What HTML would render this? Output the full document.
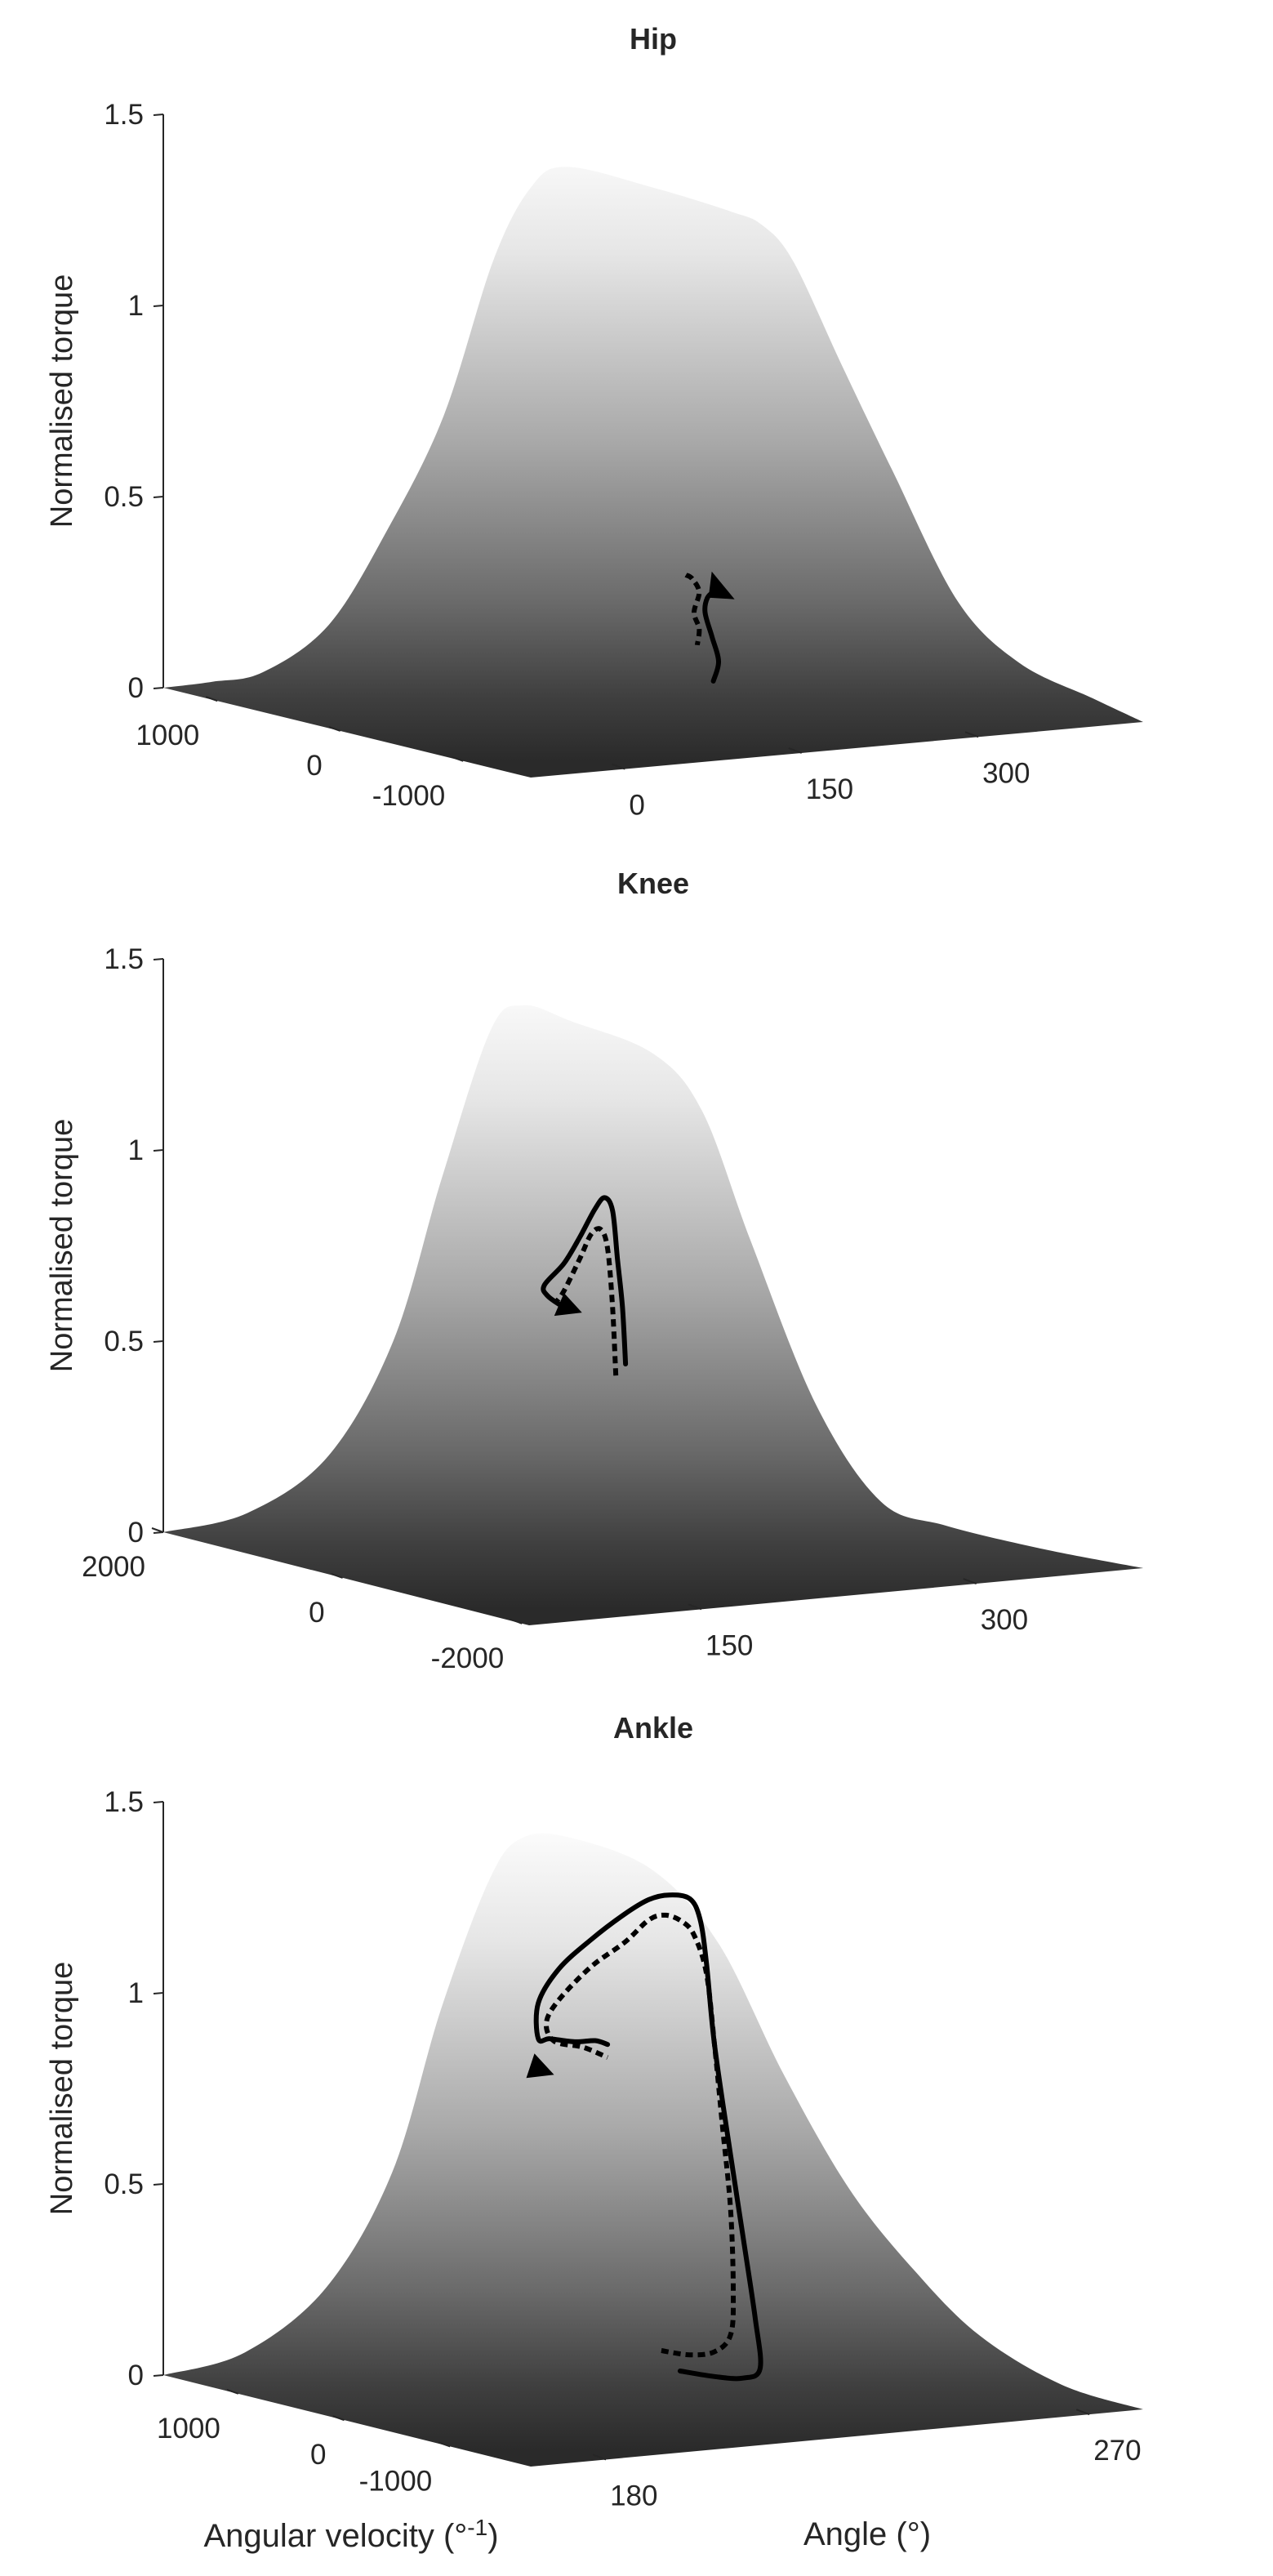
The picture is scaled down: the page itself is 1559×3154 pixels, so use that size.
<!DOCTYPE html>
<html><head><meta charset="utf-8"><style>
html,body{margin:0;padding:0;background:#fff}
svg{display:block}
text{font-family:"Liberation Sans",sans-serif;fill:#262626}
</style></head><body>
<svg id="fig" width="1559" height="3154" viewBox="0 0 1559 3154" xmlns="http://www.w3.org/2000/svg">
<defs id="defs"></defs>
</svg>
<script>
// ---- data (angle in deg, torque normalised) ----
const panelNames = ["Hip","Knee","Ankle"];
const zTicks = [0,0.5,1,1.5];
const zTickLabels = ["0","0.5","1","1.5"];
const hipVelTicks = [1000,0,-1000];
const hipVelLabels = ["1000","0","-1000"];
const hipAngTicks = [0,150,300];
const hipAngLabels = ["0","150","300"];
const kneeVelTicks = [2000,0,-2000];
const kneeVelLabels = ["2000","0","-2000"];
const kneeAngTicks = [150,300];
const kneeAngLabels = ["150","300"];
const ankleVelTicks = [1000,0,-1000];
const ankleVelLabels = ["1000","0","-1000"];
const ankleAngTicks = [180,270];
const ankleAngLabels = ["180","270"];

const hipSurfAngle = [-194.4,-151.4,-95.9,-46.7,1.8,44.1,76.0,106.5,180.0,245.3,272.2,298.9,340.5,382.8,438.3,490.8,553.0];
const hipSurfTorque = [0.165,0.178,0.285,0.516,0.804,1.200,1.382,1.428,1.353,1.273,1.230,1.127,0.841,0.558,0.200,0.023,-0.087];
const kneeSurfAngle = [2.0,46.3,81.7,108.3,134.9,152.6,179.2,223.5,250.1,276.7,312.1,347.6,383.0,436.2];
const kneeSurfTorque = [0.196,0.326,0.611,1.027,1.401,1.457,1.403,1.299,1.138,0.785,0.343,0.072,-0.007,-0.092];
const ankleSurfAngle = [147.0,162.2,174.4,183.5,192.6,198.7,207.8,223.0,235.2,247.3,259.5,271.6,283.8,299.0];
const ankleSurfTorque = [0.204,0.355,0.639,1.054,1.384,1.483,1.470,1.365,1.157,0.799,0.484,0.255,0.068,-0.080];

const hipSolidAngle = [231,235.5,230,224,226,233];
const hipSolidTorque = [0.048,0.098,0.163,0.229,0.267,0.286];
const hipDotAngle = [207.7,213,219,214.7,219,217.4];
const hipDotTorque = [0.332,0.321,0.284,0.232,0.188,0.146];
const hipArrow = [238,0.29];

const kneeSolidAngle = [208.4,206.7,204,201.3,196.9,191.6,183.6,174.8,164.1,165.9,174.8];
const kneeSolidTorque = [0.494,0.644,0.770,0.898,0.934,0.906,0.838,0.772,0.720,0.691,0.657];
const kneeDotAngle = [203.1,201.3,198.7,195.1,189.8,183.6,174.8,170.3];
const kneeDotTorque = [0.466,0.646,0.797,0.851,0.843,0.782,0.700,0.672];
const kneeArrow = [177.5,0.655];

const ankleSolidAngle = [228.0,234.4,239.7,242.9,242.0,239.7,237.4,234.4,232.9,231.7,229.8,226.0,222.2,217.7,211.4,205.4,201.6,201.6,203.8,208.4,212.2,214.5];
const ankleSolidTorque = [0.049,0.026,0.015,0.036,0.167,0.386,0.602,0.895,1.111,1.227,1.282,1.297,1.290,1.258,1.199,1.130,1.046,0.953,0.950,0.936,0.934,0.921];
const ankleDotAngle = [224.5,229.8,234.4,237.4,237.9,237.4,235.9,234.4,232.9,230.6,228.3,225.3,222.2,217.7,211.4,205.4,203.1,204.6,209.9,214.5];
const ankleDotTorque = [0.107,0.089,0.091,0.131,0.243,0.460,0.676,0.895,1.083,1.186,1.225,1.245,1.237,1.184,1.128,1.049,0.993,0.942,0.920,0.887];
const ankleArrow = [201.8,0.867];

// ---- layout ----
const panels = [
 {name:"hip", title:"Hip", ty:60, L:[200,842], F:[650,952], R:[1400,884], a0:-80, a1:440, v0:1440, v1:-1550,
  vt:hipVelTicks, vl:hipVelLabels, at:hipAngTicks, al:hipAngLabels,
  sa:hipSurfAngle, st:hipSurfTorque, solA:hipSolidAngle, solT:hipSolidTorque, dotA:hipDotAngle, dotT:hipDotTorque, arrow:hipArrow, arrowDir:-1},
 {name:"knee", title:"Knee", ty:1094, L:[200,1876], F:[648,1990], R:[1400,1920], a0:56, a1:391, v0:2000, v1:-2080,
  vt:kneeVelTicks, vl:kneeVelLabels, at:kneeAngTicks, al:kneeAngLabels,
  sa:kneeSurfAngle, st:kneeSurfTorque, solA:kneeSolidAngle, solT:kneeSolidTorque, dotA:kneeDotAngle, dotT:kneeDotTorque, arrow:kneeArrow, arrowDir:1},
 {name:"ankle", title:"Ankle", ty:2128, L:[200,2908], F:[650,3020], R:[1400,2950], a0:166, a1:280, v0:1708, v1:-1762,
  vt:ankleVelTicks, vl:ankleVelLabels, at:ankleAngTicks, al:ankleAngLabels,
  sa:ankleSurfAngle, st:ankleSurfTorque, solA:ankleSolidAngle, solT:ankleSolidTorque, dotA:ankleDotAngle, dotT:ankleDotTorque, arrow:ankleArrow, arrowDir:2}
];
const ZS = 468;
const NS = "http://www.w3.org/2000/svg";
const svg = document.getElementById('fig');
const defs = document.getElementById('defs');
function mk(tag, attrs, parent){const e=document.createElementNS(NS,tag);for(const k in attrs)e.setAttribute(k,attrs[k]);(parent||svg).appendChild(e);return e;}

function proj(P,a,v,t){
  const p=(P.v0-v)/(P.v0-P.v1), q=(a-P.a0)/(P.a1-P.a0);
  const x=P.L[0]+p*(P.F[0]-P.L[0])+q*(P.R[0]-P.F[0]);
  const y=P.L[1]+p*(P.F[1]-P.L[1])+q*(P.R[1]-P.F[1])-t*ZS;
  return [x,y];
}
function midV(P){return (P.v0+P.v1)/2;}
function smooth(pts){
  let d='M'+pts[0][0].toFixed(1)+' '+pts[0][1].toFixed(1);
  for(let i=0;i<pts.length-1;i++){
    const p0=pts[Math.max(0,i-1)],p1=pts[i],p2=pts[i+1],p3=pts[Math.min(pts.length-1,i+2)];
    const c1=[p1[0]+(p2[0]-p0[0])/6,p1[1]+(p2[1]-p0[1])/6];
    const c2=[p2[0]-(p3[0]-p1[0])/6,p2[1]-(p3[1]-p1[1])/6];
    d+=' C'+c1[0].toFixed(1)+' '+c1[1].toFixed(1)+' '+c2[0].toFixed(1)+' '+c2[1].toFixed(1)+' '+p2[0].toFixed(1)+' '+p2[1].toFixed(1);
  }
  return d;
}

panels.forEach((P,i)=>{
  const g=mk('g',{});
  
  
  const gr=mk('linearGradient',{id:'grad'+i,gradientUnits:'userSpaceOnUse',x1:0,x2:0,y1:P.L[1]-1.47*ZS,y2:P.F[1]-20},defs);
  [[0,'#ffffff'],[0.2,'#e6e6e6'],[0.5,'#a8a8a8'],[0.75,'#6a6a6a'],[0.9,'#3f3f3f'],[1,'#2a2a2a']].forEach(s=>mk('stop',{offset:s[0],'stop-color':s[1]},gr));
  let pts=[P.L];
  const vm=midV(P);
  for(let k=0;k<P.sa.length;k++) pts.push(proj(P,P.sa[k],vm,P.st[k]));
  pts.push(P.R);
  const d=smooth(pts)+' L'+P.F[0]+' '+P.F[1]+' Z';
  const surf=mk('path',{d:d,fill:'url(#grad'+i+')'},g);
  
  
  const tt=mk('text',{x:800,y:P.ty,'text-anchor':'middle','font-size':36,'font-weight':'bold'},g);
  tt.textContent=P.title;
  
  
  const za=mk('line',{x1:P.L[0],y1:P.L[1],x2:P.L[0],y2:P.L[1]-1.5*ZS,stroke:'#262626','stroke-width':2},g);
  
  
  zTicks.forEach((t,k)=>{
    const y=P.L[1]-t*ZS;
    mk('line',{x1:P.L[0],y1:y,x2:P.L[0]-12,y2:y+1,stroke:'#262626','stroke-width':2},g);
    const lb=mk('text',{x:P.L[0]-24,y:y+12,'text-anchor':'end','font-size':35},g);
    lb.textContent=zTickLabels[k];
    
    
  });
  const zl=mk('text',{x:0,y:0,'text-anchor':'middle','font-size':38,transform:'translate(88,'+(P.L[1]-0.75*ZS)+') rotate(-90)'},g);
  zl.textContent='Normalised torque';
  
  
  P.vt.forEach((v,k)=>{
    const [x,y]=proj(P,P.a0,v,0);
    mk('line',{x1:x,y1:y,x2:x-14,y2:y-5,stroke:'#262626','stroke-width':2},g);
    const lb=mk('text',{x:x-22,y:y+54,'text-anchor':'end','font-size':35},g);
    lb.textContent=P.vl[k];
    
    
  });
  P.at.forEach((a,k)=>{
    const [x,y]=proj(P,a,P.v1,0);
    mk('line',{x1:x,y1:y,x2:x-16,y2:y-6,stroke:'#262626','stroke-width':2},g);
    const lb=mk('text',{x:x+5,y:y+56,'text-anchor':'start','font-size':35},g);
    lb.textContent=P.al[k];
    
    
  });
  function tp(A,T){return A.map((a,k)=>proj(P,a,vm,T[k]));}
  const dl=mk('path',{d:smooth(tp(P.dotA,P.dotT)),fill:'none',stroke:'#000','stroke-width':6,'stroke-dasharray':'9 6','stroke-linejoin':'round'},g);
  
  
  const sl=mk('path',{d:smooth(tp(P.solA,P.solT)),fill:'none',stroke:'#000','stroke-width':6,'stroke-linejoin':'round','stroke-linecap':'round'},g);
  
  
  const [ax,ay]=proj(P,P.arrow[0],vm,P.arrow[1]);
  let tri;
  if(P.arrowDir===-1) tri=[[ax-12,ay-20],[ax+16,ay+14],[ax-16,ay+12]];
  else if(P.arrowDir===1) tri=[[ax+16,ay+6],[ax-18,ay+10],[ax-6,ay-18]];
  else tri=[[ax-6,ay-22],[ax+18,ay+4],[ax-16,ay+8]];
  const ar=mk('polygon',{points:tri.map(p=>p.join(',')).join(' '),fill:'#000'},g);
  
  
});
const xt=mk('text',{x:430,y:3118,'text-anchor':'middle','font-size':40});
xt.innerHTML='Angular velocity (°<tspan dy="-14" font-size="28">-1</tspan><tspan dy="14">)</tspan>';


const at=mk('text',{x:1062,y:3116,'text-anchor':'middle','font-size':40});
at.textContent='Angle (°)';


</script>
</body></html>
